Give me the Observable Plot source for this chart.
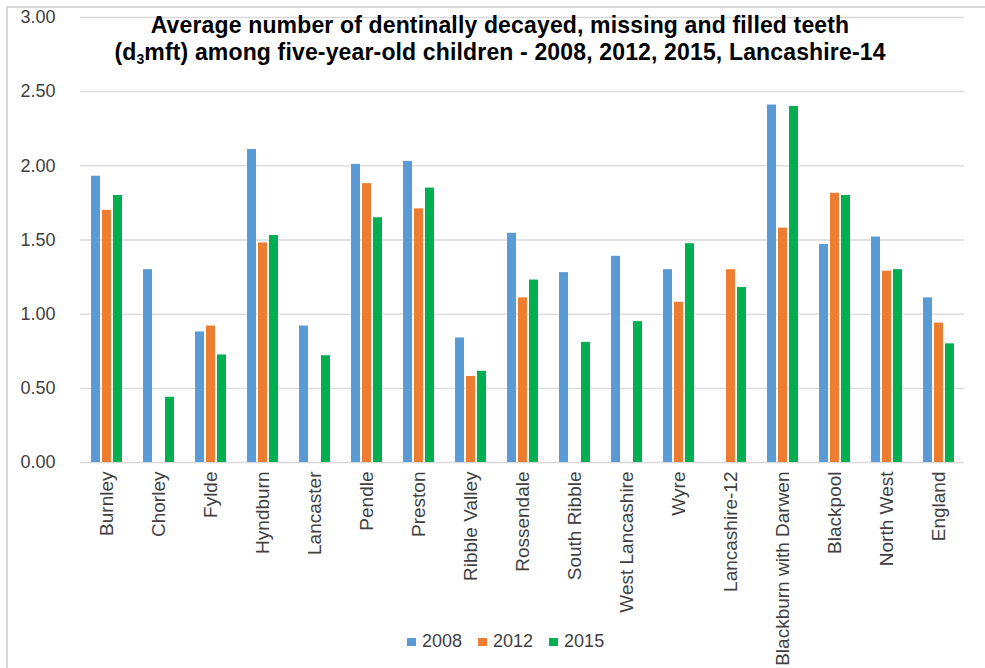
<!DOCTYPE html>
<html>
<head>
<meta charset="utf-8">
<script src="https://cdn.jsdelivr.net/npm/d3@7"></script>
<script src="https://cdn.jsdelivr.net/npm/@observablehq/plot@0.6"></script>
<style>
  html, body { margin: 0; padding: 0; background: #fff; }
  #wrap { position: relative; width: 985px; height: 668px; overflow: hidden; background: #fff; font-family: "Liberation Sans", Arial, sans-serif; }
  #border { position: absolute; left: 6px; top: 6px; width: 1000px; height: 700px; border: 2px solid #d9d9d9; box-sizing: border-box; pointer-events: none; }
  #title { position: absolute; left: 0; width: 1000px; top: 12px; text-align: center; font-weight: bold; font-size: 23px; letter-spacing: 0.15px; line-height: 27px; color: #000; white-space: nowrap; }
  #title sub { font-size: 14px; vertical-align: -4px; line-height: 0; }
  #legend { position: absolute; top: 631px; left: 407px; display: flex; gap: 16px; font-size: 18px; color: #404040; }
  #legend .item { display: flex; align-items: center; gap: 6px; }
  #legend .sw { width: 9px; height: 8px; display: inline-block; }
  #chart { position: absolute; left: 0; top: 0; }
</style>
</head>
<body>
<div id="wrap">
  <div id="chart"></div>
  <div id="border"></div>
  <div id="title">Average number of dentinally decayed, missing and filled teeth<br>(d<sub>3</sub>mft) among five-year-old children - 2008, 2012, 2015, Lancashire-14</div>
  <div id="legend"></div>
</div>
<script>
const categories = ["Burnley", "Chorley", "Fylde", "Hyndburn", "Lancaster", "Pendle", "Preston", "Ribble Valley", "Rossendale", "South Ribble", "West Lancashire", "Wyre", "Lancashire-12", "Blackburn with Darwen", "Blackpool", "North West", "England"];
const years = ["2008", "2012", "2015"];
const colors = ["#5B9BD5", "#ED7D31", "#00B050"];
const v2008 = [1.93, 1.30, 0.88, 2.11, 0.92, 2.01, 2.03, 0.84, 1.545, 1.28, 1.39, 1.30, null, 2.41, 1.47, 1.52, 1.11];
const v2012 = [1.70, null, 0.92, 1.48, null, 1.88, 1.71, 0.58, 1.11, null, null, 1.08, 1.30, 1.58, 1.815, 1.29, 0.94];
const v2015 = [1.80, 0.44, 0.725, 1.53, 0.72, 1.65, 1.85, 0.615, 1.23, 0.81, 0.95, 1.475, 1.18, 2.40, 1.80, 1.30, 0.80];
const yTicks = [0, 0.5, 1, 1.5, 2, 2.5, 3];

const series = [v2008, v2012, v2015];
const rows = [];
categories.forEach((c, i) => {
  years.forEach((y, j) => {
    const v = series[j][i];
    if (v != null) rows.push({category: c, year: y, value: v});
  });
});

const chart = Plot.plot({
  width: 985,
  height: 668,
  marginLeft: 72,
  marginRight: 13,
  marginTop: 17,
  marginBottom: 206,
  style: {fontFamily: "'Liberation Sans', Arial, sans-serif", fontSize: "18px", color: "#404040", background: "transparent"},
  y: {domain: [0, 3], label: null},
  fx: {domain: categories, padding: 0, label: null},
  x: {domain: years, axis: null, paddingInner: 0.22, paddingOuter: 0.91},
  color: {domain: years, range: colors},
  marks: [
    Plot.ruleY(yTicks, {stroke: "#d9d9d9", strokeWidth: 1.3}),
    Plot.barY(rows, {fx: "category", x: "year", y: "value", fill: "year"}),
    Plot.axisY({ticks: yTicks, tickFormat: d3.format(".2f"), tickSize: 0, tickPadding: 25, fontSize: 18, label: null, fill: "#404040"}),
    Plot.axisFx({anchor: "bottom", tickRotate: -90, tickSize: 0, tickPadding: 9, fontSize: 19, label: null, fill: "#404040"})
  ]
});
document.getElementById("chart").appendChild(chart);

const legend = document.getElementById("legend");
years.forEach((y, j) => {
  const item = document.createElement("div");
  item.className = "item";
  const sw = document.createElement("span");
  sw.className = "sw";
  sw.style.background = colors[j];
  const t = document.createElement("span");
  t.textContent = y;
  item.appendChild(sw);
  item.appendChild(t);
  legend.appendChild(item);
});
</script>
</body>
</html>
